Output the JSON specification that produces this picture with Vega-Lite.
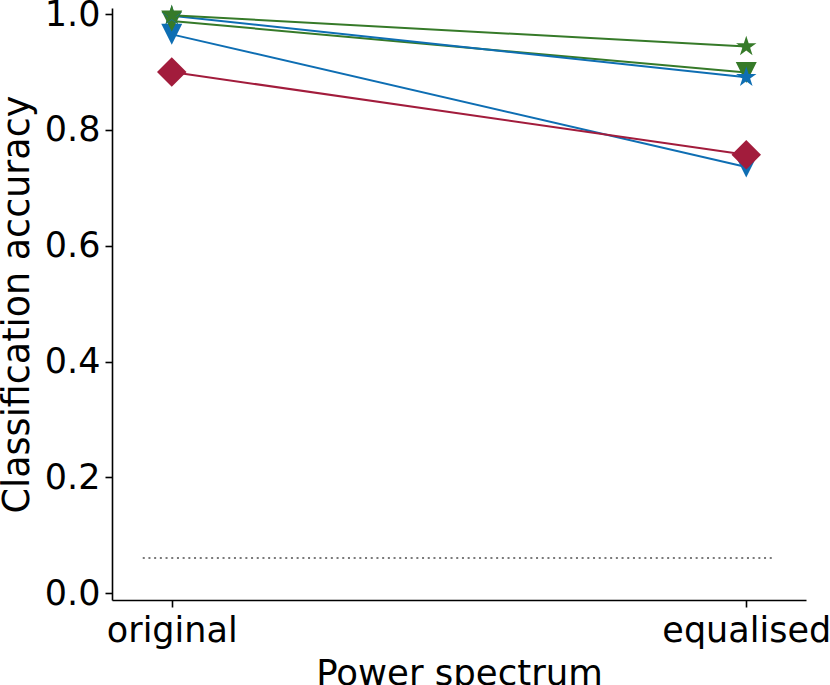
{
  "$schema": "https://vega.github.io/schema/vega-lite/v6.json",
  "width": 694,
  "height": 592,
  "autosize": {"type": "none"},
  "padding": {"left": 112, "top": 8, "right": 24, "bottom": 85},
  "background": "white",
  "config": {
    "view": {"stroke": null},
    "font": "DejaVu Sans",
    "axis": {
      "labelFont": "DejaVu Sans",
      "titleFont": "DejaVu Sans",
      "labelFontSize": 35,
      "titleFontSize": 35,
      "titleFontWeight": "normal",
      "labelColor": "black",
      "titleColor": "black",
      "domainColor": "black",
      "domainWidth": 1.6,
      "tickColor": "black",
      "tickWidth": 1.6,
      "tickSize": 7,
      "grid": false
    }
  },
  "datasets": {
    "acc": [
      {"series": "D", "spectrum": "original", "accuracy": 0.965},
      {"series": "D", "spectrum": "equalised", "accuracy": 0.736},
      {"series": "B", "spectrum": "original", "accuracy": 0.988},
      {"series": "B", "spectrum": "equalised", "accuracy": 0.899},
      {"series": "C", "spectrum": "original", "accuracy": 0.997},
      {"series": "C", "spectrum": "equalised", "accuracy": 0.891},
      {"series": "A", "spectrum": "original", "accuracy": 0.998},
      {"series": "A", "spectrum": "equalised", "accuracy": 0.944},
      {"series": "E", "spectrum": "original", "accuracy": 0.9},
      {"series": "E", "spectrum": "equalised", "accuracy": 0.757}
    ],
    "chance": [
      {"spectrum": "original", "spectrum_end": "equalised", "accuracy": 0.061}
    ]
  },
  "layer": [
    {
      "data": {"name": "chance"},
      "mark": {"type": "rule", "strokeDash": [2, 3.7], "strokeWidth": 2.2, "color": "#7a7a7a", "xOffset": -29, "x2Offset": 29},
      "encoding": {
        "x": {"field": "spectrum", "type": "nominal"},
        "x2": {"field": "spectrum_end"},
        "y": {"field": "accuracy", "type": "quantitative"}
      }
    },
    {
      "data": {"name": "acc"},
      "mark": {"type": "line", "strokeWidth": 2},
      "encoding": {
        "x": {
          "field": "spectrum", "type": "nominal",
          "scale": {"type": "point", "domain": ["original", "equalised"], "padding": 0.104},
          "axis": {"title": "Power spectrum", "titleFontSize": 35.5, "labelAngle": 0, "labelAlign": "center", "labelBaseline": "top", "labelPadding": 6, "titlePadding": 8}
        },
        "y": {
          "field": "accuracy", "type": "quantitative",
          "scale": {"domain": [-0.0115, 1.0105], "nice": false, "zero": false},
          "axis": {"title": "Classification accuracy", "titleFontSize": 36.5, "values": [0, 0.2, 0.4, 0.6, 0.8, 1.0], "format": ".1f", "labelPadding": 5, "titlePadding": 8}
        },
        "color": {
          "field": "series", "type": "nominal", "legend": null,
          "scale": {"domain": ["A", "B", "C", "D", "E"], "range": ["#367a29", "#367a29", "#0e6eb3", "#0e6eb3", "#a21c3c"]}
        }
      }
    },
    {
      "data": {"name": "acc"},
      "mark": {"type": "point", "filled": true, "opacity": 1, "strokeWidth": 0},
      "encoding": {
        "x": {"field": "spectrum", "type": "nominal"},
        "y": {"field": "accuracy", "type": "quantitative"},
        "color": {"field": "series", "type": "nominal", "legend": null},
        "shape": {
          "field": "series", "type": "nominal", "legend": null,
          "scale": {
            "domain": ["A", "B", "C", "D", "E"],
            "range": [
              "M0,-1L0.2245,-0.309L0.951,-0.309L0.3633,0.118L0.5878,0.809L0,0.382L-0.5878,0.809L-0.3633,0.118L-0.951,-0.309L-0.2245,-0.309Z",
              "M-1,-1L1,-1L0,1Z",
              "M0,-1L0.2245,-0.309L0.951,-0.309L0.3633,0.118L0.5878,0.809L0,0.382L-0.5878,0.809L-0.3633,0.118L-0.951,-0.309L-0.2245,-0.309Z",
              "M-1,-1L1,-1L0,1Z",
              "M-1,0L0,-1L1,0L0,1Z"
            ]
          }
        },
        "size": {
          "field": "series", "type": "nominal", "legend": null,
          "scale": {"type": "ordinal", "domain": ["A", "B", "C", "D", "E"], "range": [460, 441, 460, 441, 870]}
        }
      }
    }
  ]
}
